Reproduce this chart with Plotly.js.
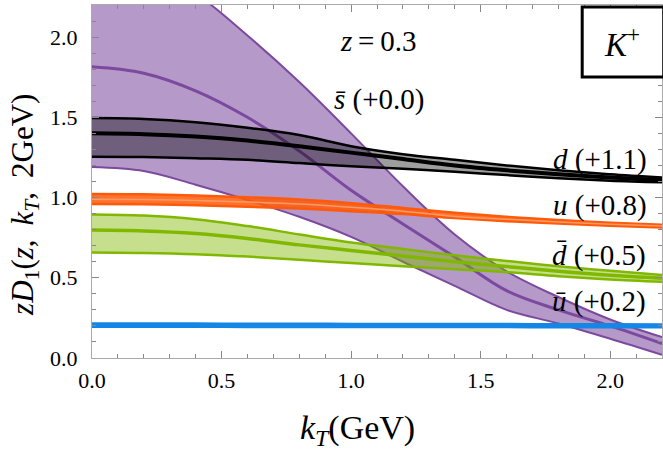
<!DOCTYPE html>
<html>
<head>
<meta charset="utf-8">
<script src="https://cdn.plot.ly/plotly-3.0.1.min.js"></script>
<style>
  html, body { margin: 0; padding: 0; background: #fff; }
  #chart { width: 663px; height: 455px; }
</style>
</head>
<body>
<div id="chart"></div>
<script>
(function() {
    'use strict';

    // kT grid (GeV)
    var kT = [0, 0.2, 0.4, 0.6, 0.8, 1.0, 1.2, 1.4, 1.6, 1.8, 2.0, 2.2];

    // sbar (+0.0)
    var sbarLow  = [1.19, 1.165, 1.08, 0.985, 0.88, 0.755, 0.60, 0.45, 0.30, 0.215, 0.12, 0.02];
    var sbarMid  = [1.815, 1.775, 1.665, 1.50, 1.29, 1.045, 0.835, 0.63, 0.42, 0.30, 0.20, 0.09];
    var sbarHigh = [2.49, 2.43, 2.27, 2.01, 1.72, 1.40, 1.07, 0.77, 0.54, 0.38, 0.24, 0.13];

    // d (+1.1)
    var dLow  = [1.255, 1.253, 1.245, 1.235, 1.215, 1.195, 1.18, 1.16, 1.14, 1.12, 1.105, 1.095];
    var dMid  = [1.40, 1.395, 1.38, 1.355, 1.32, 1.28, 1.24, 1.20, 1.17, 1.145, 1.125, 1.11];
    var dHigh = [1.495, 1.49, 1.47, 1.435, 1.39, 1.32, 1.27, 1.235, 1.20, 1.17, 1.145, 1.125];

    // u (+0.8)
    var uLow  = [0.96, 0.958, 0.952, 0.943, 0.932, 0.915, 0.897, 0.872, 0.852, 0.838, 0.824, 0.814];
    var uMid  = [0.99, 0.988, 0.982, 0.972, 0.96, 0.94, 0.915, 0.882, 0.865, 0.848, 0.833, 0.822];
    var uHigh = [1.022, 1.02, 1.013, 1.002, 0.988, 0.965, 0.935, 0.905, 0.88, 0.86, 0.843, 0.83];

    // dbar (+0.5)
    var dbarLow  = [0.658, 0.655, 0.647, 0.632, 0.612, 0.592, 0.572, 0.553, 0.535, 0.51, 0.49, 0.475];
    var dbarMid  = [0.797, 0.792, 0.776, 0.745, 0.705, 0.67, 0.635, 0.60, 0.57, 0.54, 0.515, 0.497];
    var dbarHigh = [0.895, 0.888, 0.865, 0.822, 0.77, 0.72, 0.68, 0.64, 0.605, 0.572, 0.543, 0.517];

    // ubar (+0.2)
    var ubarLow  = [0.193, 0.193, 0.193, 0.192, 0.192, 0.192, 0.191, 0.191, 0.191, 0.19, 0.19, 0.19];
    var ubarMid  = [0.205, 0.205, 0.205, 0.204, 0.204, 0.203, 0.203, 0.202, 0.202, 0.201, 0.201, 0.2];
    var ubarHigh = [0.216, 0.216, 0.216, 0.215, 0.215, 0.214, 0.214, 0.213, 0.213, 0.212, 0.212, 0.211];

    var font = '"Liberation Serif", "DejaVu Serif", serif';

    function band(low, mid, high, color, fill, midColor, edgeW, midW) {
        var base = { x: kT, mode: 'lines', hoverinfo: 'skip', showlegend: false };
        return [
            Object.assign({}, base, { y: low, line: { color: color, width: edgeW, shape: 'spline', smoothing: 1 } }),
            Object.assign({}, base, { y: high, fill: 'tonexty', fillcolor: fill,
                line: { color: color, width: edgeW, shape: 'spline', smoothing: 1 } }),
            Object.assign({}, base, { y: mid, line: { color: midColor, width: midW, shape: 'spline', smoothing: 1 } })
        ];
    }

    var data = []
        .concat(band(sbarLow, sbarMid, sbarHigh, '#7b4a9e', 'rgba(123,74,158,0.56)', '#7b4a9e', 2, 3))
        .concat(band(dLow, dMid, dHigh, '#000000', 'rgba(0,0,0,0.38)', '#000000', 2.5, 4))
        .concat(band(uLow, uMid, uHigh, '#ff5a0a', 'rgba(255,90,10,0.85)', '#ff9a60', 2.5, 1.5))
        .concat(band(dbarLow, dbarMid, dbarHigh, '#80b800', 'rgba(128,184,0,0.45)', '#80b800', 2.5, 3.5))
        .concat(band(ubarLow, ubarMid, ubarHigh, '#1487e6', 'rgba(20,135,230,0.8)', '#1487e6', 2, 2.5));

    function axis(extra) {
        return Object.assign({
            range: [0, 2.2],
            dtick: 0.5,
            tickformat: '.1f',
            ticks: 'inside',
            ticklen: 7,
            tickwidth: 1,
            tickcolor: '#888',
            showline: true,
            linecolor: '#aaa',
            linewidth: 1,
            mirror: 'ticks',
            showgrid: false,
            zeroline: false,
            ticklabelstandoff: 6,
            tickfont: { family: font, size: 22, color: '#000' },
            minor: { dtick: 0.1, ticks: 'inside', ticklen: 4, tickcolor: '#888', showgrid: false }
        }, extra);
    }

    function label(text, x, y, size) {
        return { text: text, xref: 'paper', yref: 'paper', x: x, y: y, showarrow: false,
                 xanchor: 'center', yanchor: 'middle', font: { family: font, size: size, color: '#000' } };
    }

    var layout = {
        width: 663,
        height: 455,
        margin: { l: 92, r: 1, t: 5, b: 97 },
        paper_bgcolor: '#fff',
        plot_bgcolor: '#fff',
        font: { family: font, color: '#000' },
        xaxis: axis({ ticklabelstandoff: 3 }),
        yaxis: axis({ ticklabelstandoff: 9 }),
        annotations: [
            label('<i>z</i>\u2009=\u20090.3', 0.502, 0.897, 29),
            label('<i>s\u0304</i> (+0.0)', 0.503, 0.731, 29),
            label('<i>d</i> (+1.1)', 0.891, 0.561, 29),
            label('<i>u</i> (+0.8)', 0.891, 0.432, 29),
            label('<i>d\u0304</i> (+0.5)', 0.889, 0.289, 29),
            label('<i>u\u0304</i> (+0.2)', 0.889, 0.159, 29),
            label('<i>K</i><sup>+</sup>', 0.93, 0.895, 33),
            label('<i>k<sub>T</sub></i>(GeV)', 0.466, -0.205, 34),
            Object.assign(label('<i>zD</i><sub>1</sub>(<i>z</i>,\u2009 <i>k<sub>T</sub></i>,\u2009 2GeV)', -0.118, 0.433, 31),
                { textangle: -90 })
        ],
        shapes: [
            { type: 'rect', xref: 'paper', yref: 'paper', x0: 0.86, x1: 1.003, y0: 0.796, y1: 0.994,
              line: { color: '#000', width: 3 }, fillcolor: '#fff' }
        ]
    };

    Plotly.newPlot('chart', data, layout, { staticPlot: true, displayModeBar: false });
})();
</script>
</body>
</html>
